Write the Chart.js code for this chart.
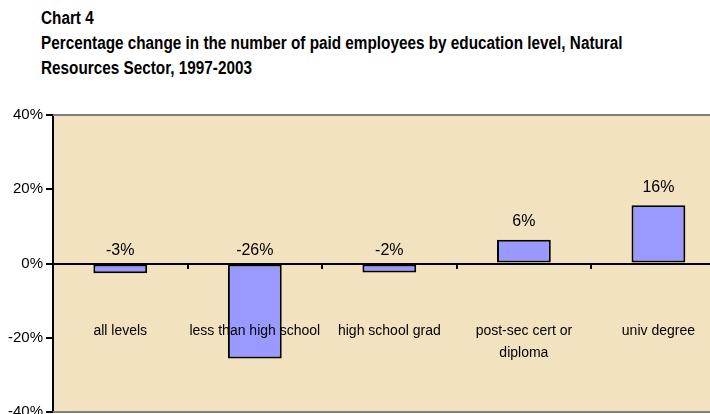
<!DOCTYPE html>
<html>
<head>
<meta charset="utf-8">
<script src="https://cdn.jsdelivr.net/npm/chart.js@4.4.1/dist/chart.umd.min.js"></script>
<style>
  body { margin: 0; background: #fff; overflow: hidden; width: 710px; height: 414px; position: relative; }
  #title {
    position: absolute; left: 41px; top: 6px; white-space: nowrap;
    font-family: "Liberation Sans", Arial, sans-serif;
    font-weight: bold; font-size: 18px; line-height: 25px; color: #000;
    transform: scaleX(0.85); transform-origin: 0 0;
  }
  #wrap { position: absolute; left: 0; top: 0; width: 747px; height: 424px; }
</style>
</head>
<body>
<div id="title">Chart 4<br>Percentage change in the number of paid employees by education level, Natural<br>Resources Sector, 1997-2003</div>
<div id="wrap"><canvas id="canvas" width="747" height="424"></canvas></div>
<script>
// values (labels in the chart are rounded)
const categories = ["all levels", "less than high school", "high school grad", ["post-sec cert or", "diploma"], "univ degree"];
const pctChange = [-2.6, -25.6, -2.4, 6.4, 15.7];
const yTicks = [-40, -20, 0, 20, 40];

const fontFamily = '"Liberation Sans", Arial, sans-serif';

const plotBackground = {
  id: "plotBackground",
  beforeDraw(chart) {
    const a = chart.chartArea, ctx = chart.ctx;
    ctx.save();
    ctx.fillStyle = "#f2e2bf";
    ctx.fillRect(a.left, a.top, a.right - a.left, a.bottom - a.top);
    ctx.restore();
  },
  afterDraw(chart) {
    const a = chart.chartArea, ctx = chart.ctx;
    ctx.save();
    ctx.strokeStyle = "#808080";
    ctx.lineWidth = 2;
    ctx.beginPath();
    ctx.moveTo(a.left, a.top); ctx.lineTo(a.right, a.top);
    ctx.moveTo(a.left, a.bottom); ctx.lineTo(a.right, a.bottom);
    ctx.stroke();
    ctx.restore();
  }
};

const valueLabels = {
  id: "valueLabels",
  afterDatasetsDraw(chart) {
    const ctx = chart.ctx, y = chart.scales.y;
    const meta = chart.getDatasetMeta(0);
    ctx.save();
    ctx.font = "16px " + fontFamily;
    ctx.fillStyle = "#000";
    ctx.textAlign = "center";
    ctx.textBaseline = "middle";
    meta.data.forEach((bar, i) => {
      const v = pctChange[i];
      const py = v >= 0 ? y.getPixelForValue(v) - 18 : y.getPixelForValue(0) - 13;
      ctx.fillText(Math.round(v) + "%", bar.x, py);
    });
    ctx.restore();
  }
};

let ctx = document.getElementById("canvas").getContext("2d");
let chart = new Chart(ctx, {
  type: "bar",
  data: {
    labels: categories,
    datasets: [{
      data: pctChange,
      backgroundColor: "#9999ff",
      borderColor: "#000",
      borderWidth: 2,
      borderSkipped: false,
      categoryPercentage: 1,
      barPercentage: 0.4
    }]
  },
  options: {
    responsive: false,
    animation: false,
    layout: { padding: { top: 115, bottom: 0, right: 0, left: 0 } },
    plugins: { legend: { display: false }, title: { display: false }, tooltip: { enabled: false } },
    scales: {
      x: {
        position: { y: 0 },
        grid: { offset: true, drawOnChartArea: false, tickLength: 4, color: "#000", lineWidth: 2, z: 1 },
        border: { color: "#000", width: 2, z: 1 },
        ticks: {
          color: "#000", padding: 52, maxRotation: 0, autoSkip: false, z: 1,
          font: { family: fontFamily, size: 14, lineHeight: 1.6 }
        }
      },
      y: {
        min: -40, max: 40,
        afterFit(scale) { scale.width = 53; },
        afterBuildTicks(scale) { scale.ticks = yTicks.map(v => ({ value: v })); },
        grid: { drawOnChartArea: false, tickLength: 7, color: "#000", lineWidth: 2 },
        border: { color: "#000", width: 2 },
        ticks: {
          color: "#000", padding: 3,
          font: { family: fontFamily, size: 15 },
          callback: v => v + "%"
        }
      }
    }
  },
  plugins: [plotBackground, valueLabels]
});
</script>
</body>
</html>
